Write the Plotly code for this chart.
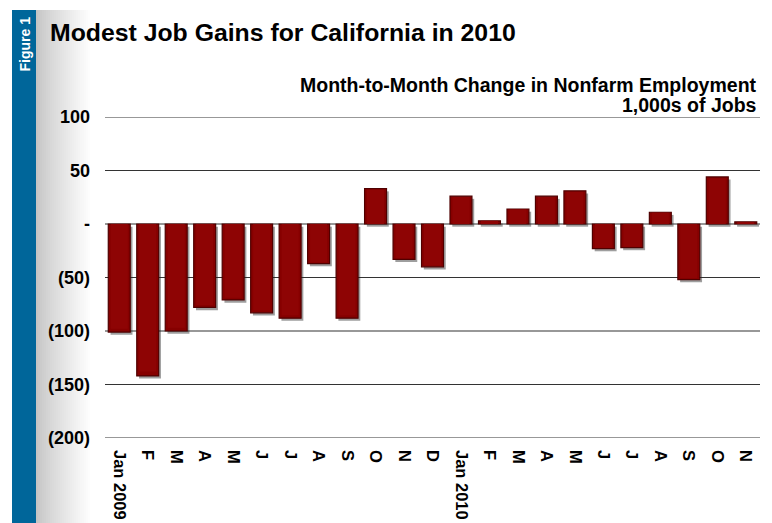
import plotly.graph_objects as go

# Month-to-month change in California nonfarm employment (thousands of jobs)
month_labels = ["Jan 2009", "F", "M", "A", "M", "J", "J", "A", "S", "O", "N", "D",
                "Jan 2010", "F", "M", "A", "M", "J", "J", "A", "S", "O", "N"]
job_change = [-101, -142, -100, -78, -71, -83, -88, -37, -88, 33, -33, -40,
              26, 3, 14, 26, 31, -23, -22, 11, -52, 44, 2]
y_tick_vals = [100, 50, 0, -50, -100, -150, -200]
y_tick_text = ["100", "50", "-", "(50)", "(100)", "(150)", "(200)"]

W, H = 772, 523
L, R, T, B = 105, 12, 117, 85
FONT = "Arial, Liberation Sans, sans-serif"

x_pos = list(range(len(month_labels)))
bar_w = 0.77

fig = go.Figure()

# soft drop shadow under each bar
fig.add_trace(go.Bar(
    x=x_pos, y=job_change, base=-2.5, width=bar_w, offset=-bar_w / 2 + 0.08,
    marker=dict(color="rgba(40,40,40,0.45)", line=dict(width=0)),
    hoverinfo="skip", showlegend=False,
))
# main bars
fig.add_trace(go.Bar(
    x=x_pos, y=job_change, width=bar_w, offset=-bar_w / 2,
    marker=dict(color="#860000", line=dict(color="#4f0000", width=1.2)),
    showlegend=False,
))
# lighter inner face for a bevelled look
fig.add_trace(go.Bar(
    x=x_pos, y=[v * 0.97 for v in job_change], width=bar_w * 0.78,
    offset=-bar_w * 0.39,
    marker=dict(color="#8e0404", line=dict(width=0)),
    hoverinfo="skip", showlegend=False,
))

def px_x(p):
    return (p - L) / (W - L - R)

def px_y(p):
    return (H - B - p) / (H - T - B)

shapes = []
# blue side band
shapes.append(dict(type="rect", xref="paper", yref="paper", layer="below",
                   x0=px_x(12), x1=px_x(36), y0=px_y(H + 2), y1=px_y(10),
                   fillcolor="#00669a", line=dict(width=0)))
# grey-to-white gradient next to the band
n_steps = 28
g0, g1 = 36, 92
for i in range(n_steps):
    a = g0 + (g1 - g0) * i / n_steps
    b = g0 + (g1 - g0) * (i + 1) / n_steps
    t = i / (n_steps - 1)
    c = int(196 + (255 - 196) * t ** 0.8)
    shapes.append(dict(type="rect", xref="paper", yref="paper", layer="below",
                       x0=px_x(a), x1=px_x(b) + 0.001, y0=px_y(H + 2), y1=px_y(10),
                       fillcolor=f"rgb({c},{c},{c})", line=dict(width=0)))

# horizontal rules at every y tick, including the range ends
for v in y_tick_vals:
    shapes.append(dict(type="line", xref="paper", yref="y", layer="below",
                       x0=0, x1=1, y0=v, y1=v,
                       line=dict(color="#333333", width=1.2)))

annotations = [
    dict(text="<b>Figure 1</b>", textangle=-90, xref="paper", yref="paper",
         x=px_x(24.5), y=px_y(44), xanchor="center", yanchor="middle",
         showarrow=False, font=dict(family=FONT, size=14, color="white")),
    dict(text="<b>Modest Job Gains for California in 2010</b>", xref="paper", yref="paper",
         x=px_x(48), y=px_y(33), xanchor="left", yanchor="middle", showarrow=False,
         font=dict(family=FONT, size=24.8, color="black")),
    dict(text="<b>Month-to-Month Change in Nonfarm Employment</b>", xref="paper", yref="paper",
         x=px_x(759), y=px_y(85), xanchor="right", yanchor="middle", showarrow=False,
         font=dict(family=FONT, size=19.5, color="black")),
    dict(text="<b>1,000s of Jobs</b>", xref="paper", yref="paper",
         x=px_x(759), y=px_y(105), xanchor="right", yanchor="middle", showarrow=False,
         font=dict(family=FONT, size=19.5, color="black")),
]

fig.update_layout(
    width=W, height=H,
    margin=dict(l=L, r=R, t=T, b=B),
    paper_bgcolor="white", plot_bgcolor="rgba(0,0,0,0)",
    barmode="overlay",
    shapes=shapes, annotations=annotations,
    font=dict(family=FONT, color="black"),
    xaxis=dict(
        range=[-0.5, len(month_labels) - 0.5],
        tickmode="array", tickvals=x_pos,
        ticktext=[f"<b>{m}</b>" for m in month_labels],
        tickangle=90, tickfont=dict(family=FONT, size=16.5, color="black"),
        showgrid=False, zeroline=False, showline=False, ticks="",
        ticklabelstandoff=11, automargin=False,
    ),
    yaxis=dict(
        range=[-200, 100],
        tickmode="array", tickvals=y_tick_vals,
        ticktext=[f"<b>{t}</b>" for t in y_tick_text],
        tickfont=dict(family=FONT, size=18, color="black"),
        showgrid=False, zeroline=False, showline=False, ticks="",
        ticklabelstandoff=14, automargin=False,
    ),
)

fig.write_html("out.html")
